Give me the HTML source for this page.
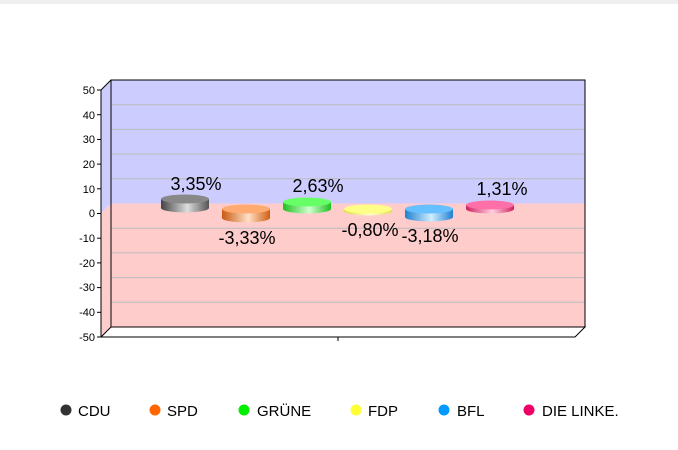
<!DOCTYPE html><html><head><meta charset="utf-8"><style>body{margin:0;background:#fff}svg{display:block;font-family:"Liberation Sans",sans-serif}</style></head><body>
<svg width="678" height="450" xmlns="http://www.w3.org/2000/svg">
<defs>
<linearGradient id="g0" x1="0" x2="1"><stop offset="0" stop-color="#444"/><stop offset=".55" stop-color="#ddd"/><stop offset="1" stop-color="#555"/></linearGradient>
<linearGradient id="g1" x1="0" x2="1"><stop offset="0" stop-color="#c85a10"/><stop offset=".55" stop-color="#ffe0c8"/><stop offset="1" stop-color="#d06010"/></linearGradient>
<linearGradient id="g2" x1="0" x2="1"><stop offset="0" stop-color="#20c020"/><stop offset=".55" stop-color="#d0ffd0"/><stop offset="1" stop-color="#20c020"/></linearGradient>
<linearGradient id="g3" x1="0" x2="1"><stop offset="0" stop-color="#e0e040"/><stop offset=".55" stop-color="#ffffd0"/><stop offset="1" stop-color="#e0e040"/></linearGradient>
<linearGradient id="g4" x1="0" x2="1"><stop offset="0" stop-color="#2080d0"/><stop offset=".55" stop-color="#d0eeff"/><stop offset="1" stop-color="#2080d0"/></linearGradient>
<linearGradient id="g5" x1="0" x2="1"><stop offset="0" stop-color="#d02060"/><stop offset=".55" stop-color="#ffd0e0"/><stop offset="1" stop-color="#d02060"/></linearGradient>
</defs>
<rect x="0" y="0" width="678" height="4" fill="#eee"/>
<!-- back wall -->
<rect x="111" y="80" width="474" height="123.5" fill="#ccccff"/>
<rect x="111" y="203.5" width="474" height="123.5" fill="#ffcccc"/>
<polygon points="101,90 111,80 111,203.5 101,213.5" fill="#ccccff"/>
<polygon points="101,213.5 111,203.5 111,327 101,337" fill="#ffcccc"/>
<g stroke="#bbb" stroke-width="1">
<line x1="111" y1="104.7" x2="585" y2="104.7"/><line x1="111" y1="129.4" x2="585" y2="129.4"/><line x1="111" y1="154.1" x2="585" y2="154.1"/><line x1="111" y1="178.8" x2="585" y2="178.8"/><line x1="111" y1="228.2" x2="585" y2="228.2"/><line x1="111" y1="252.9" x2="585" y2="252.9"/><line x1="111" y1="277.6" x2="585" y2="277.6"/><line x1="111" y1="302.3" x2="585" y2="302.3"/>
</g>
<g fill="none" stroke="#000" stroke-width="1">
<polyline points="111,327 111,80 585,80 585,327 111,327"/>
<polygon points="101,337 111,327 585,327 575,337" fill="#fff"/>
<line x1="101" y1="90" x2="101" y2="337"/><line x1="101" y1="90" x2="111" y2="80"/>
<line x1="338" y1="337" x2="338" y2="341"/>
</g>
<g stroke="#000"><line x1="97" y1="90" x2="101" y2="90"/><line x1="97" y1="114.7" x2="101" y2="114.7"/><line x1="97" y1="139.4" x2="101" y2="139.4"/><line x1="97" y1="164.1" x2="101" y2="164.1"/><line x1="97" y1="188.8" x2="101" y2="188.8"/><line x1="97" y1="213.5" x2="101" y2="213.5"/><line x1="97" y1="238.2" x2="101" y2="238.2"/><line x1="97" y1="262.9" x2="101" y2="262.9"/><line x1="97" y1="287.6" x2="101" y2="287.6"/><line x1="97" y1="312.3" x2="101" y2="312.3"/><line x1="97" y1="337" x2="101" y2="337"/></g>
<g font-size="11" text-anchor="end" fill="#000">
<text x="95" y="94">50</text><text x="95" y="119">40</text><text x="95" y="143">30</text><text x="95" y="168">20</text><text x="95" y="193">10</text><text x="95" y="217">0</text><text x="95" y="242">-10</text><text x="95" y="267">-20</text><text x="95" y="291">-30</text><text x="95" y="316">-40</text><text x="95" y="341">-50</text>
</g>
<!-- cylinders -->
<g>
<path d="M161,199 v9 a24,4.5 0 0 0 48,0 v-9 z" fill="url(#g0)"/><ellipse cx="185" cy="199" rx="24" ry="4.5" fill="#888"/>
<path d="M222,209 v9 a24,4.5 0 0 0 48,0 v-9 z" fill="url(#g1)"/><ellipse cx="246" cy="209" rx="24" ry="4.5" fill="#ffaa70"/>
<path d="M283,202 v7 a24,4.5 0 0 0 48,0 v-7 z" fill="url(#g2)"/><ellipse cx="307" cy="202" rx="24" ry="4.5" fill="#66ff66"/>
<path d="M344,209 v2 a24,4.5 0 0 0 48,0 v-2 z" fill="url(#g3)"/><ellipse cx="368" cy="209" rx="24" ry="4.5" fill="#ffff88"/>
<path d="M405,209 v8 a24,4.5 0 0 0 48,0 v-8 z" fill="url(#g4)"/><ellipse cx="429" cy="209" rx="24" ry="4.5" fill="#66c0ff"/>
<path d="M466,205 v4 a24,4.5 0 0 0 48,0 v-4 z" fill="url(#g5)"/><ellipse cx="490" cy="205" rx="24" ry="4.5" fill="#ff70a8"/>
</g>
<g font-size="18" text-anchor="middle" fill="#000">
<text x="196" y="190">3,35%</text><text x="247" y="244">-3,33%</text><text x="318" y="192">2,63%</text><text x="370" y="236">-0,80%</text><text x="430" y="242">-3,18%</text><text x="502" y="195">1,31%</text>
</g>
<g font-size="15" fill="#000">
<circle cx="66" cy="410" r="5.5" fill="#333"/><text x="78" y="416">CDU</text>
<circle cx="155" cy="410" r="5.5" fill="#ff6600"/><text x="167" y="416">SPD</text>
<circle cx="244" cy="410" r="5.5" fill="#00ee00"/><text x="257" y="416">GRÜNE</text>
<circle cx="356" cy="410" r="5.5" fill="#ffff33"/><text x="368" y="416">FDP</text>
<circle cx="444" cy="410" r="5.5" fill="#0099ff"/><text x="457" y="416">BFL</text>
<circle cx="529" cy="410" r="5.5" fill="#ee0066"/><text x="542" y="416">DIE LINKE.</text>
</g>
</svg>
</body></html>
